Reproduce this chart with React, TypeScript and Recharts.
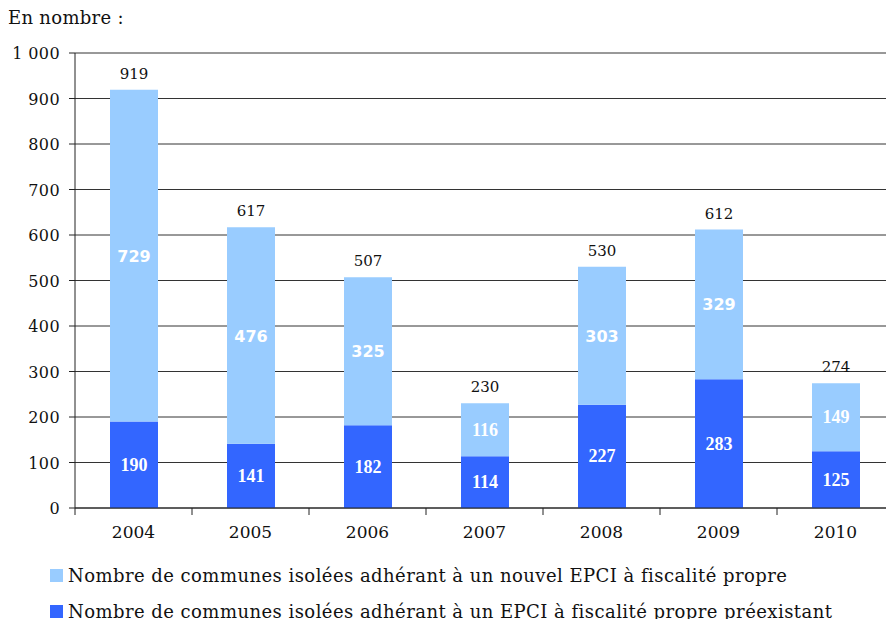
import React from 'react';
import { BarChart, Bar, XAxis, YAxis, CartesianGrid, LabelList, Legend } from 'recharts';

const years = ['2004', '2005', '2006', '2007', '2008', '2009', '2010'];
const preexisting = [190, 141, 182, 114, 227, 283, 125];
const nouvel = [729, 476, 325, 116, 303, 329, 149];
const yTicks = [0, 100, 200, 300, 400, 500, 600, 700, 800, 900, 1000];
const nameNouvel = 'Nombre de communes isolées adhérant à un nouvel EPCI à fiscalité propre';
const namePre = 'Nombre de communes isolées adhérant à un EPCI à fiscalité propre préexistant';

const data = years.map((y, i) => ({
  year: y,
  pre: preexisting[i],
  nouv: nouvel[i],
  total: preexisting[i] + nouvel[i],
}));

const SERIF = '"DejaVu Serif", serif';
const LIGHT = '#99CCFF';
const DARK = '#3366FF';
// years whose light-segment label is drawn in a sans face in the reference
const sansLight = new Set(['2004', '2005', '2006', '2008', '2009']);

const fmt = (v: number) => String(v).replace(/\B(?=(\d{3})+(?!\d))/g, ' ');

const XTick = (props: any) => {
  const { x, y, payload } = props;
  const half = 58.5;
  return (
    <g>
      <line x1={x - half} y1={y - 8} x2={x - half} y2={y - 1} stroke="#222" />
      <text x={x} y={y + 22} textAnchor="middle" fontFamily={SERIF} fontSize={17} fill="#111">
        {payload.value}
      </text>
    </g>
  );
};

const YTick = (props: any) => {
  const { x, y, payload } = props;
  return (
    <text x={x} y={y} dy={6} textAnchor="end" fontFamily={SERIF} fontSize={16} letterSpacing={0.4} fill="#111">
      {fmt(payload.value)}
    </text>
  );
};

const makeInner = (light: boolean) => (props: any) => {
  const { x, y, width, height, value, index } = props;
  const yr = years[index];
  const sans = light && sansLight.has(yr);
  return (
    <text
      x={x + width / 2}
      y={y + height / 2}
      dy={6}
      textAnchor="middle"
      fill="#fff"
      fontWeight="bold"
      fontFamily={sans ? '"DejaVu Sans", sans-serif' : '"Liberation Serif", serif'}
      fontSize={sans ? 16 : 18}
    >
      {value}
    </text>
  );
};

const TopLabel = (props: any) => {
  const { x, y, width, index } = props;
  return (
    <text x={x + width / 2} y={y - 11} textAnchor="middle" fontFamily={SERIF} fontSize={15} fill="#111">
      {data[index].total}
    </text>
  );
};

const LegendContent = () => {
  const items = [
    { color: LIGHT, label: nameNouvel },
    { color: DARK, label: namePre },
  ];
  return (
    <div>
      {items.map((it) => (
        <div key={it.label} style={{ display: 'flex', alignItems: 'center', height: 36, fontFamily: SERIF, fontSize: 18, letterSpacing: 0.45, color: '#111', whiteSpace: 'nowrap' }}>
          <span style={{ display: 'inline-block', width: 13, height: 13, background: it.color, marginRight: 5 }} />
          <span>{it.label}</span>
        </div>
      ))}
    </div>
  );
};

export default function App() {
  return (
    <div style={{ position: 'absolute', left: 0, top: 0, width: 886, height: 619, background: '#fff', overflow: 'hidden' }}>
      <div style={{ position: 'absolute', left: 8, top: 7, fontFamily: SERIF, fontSize: 18, letterSpacing: 0.3, color: '#111', whiteSpace: 'nowrap' }}>En nombre :</div>
      <BarChart width={894} height={619} data={data} margin={{ top: 53, right: 0, left: 0, bottom: 71 }} barSize={48}>
        <CartesianGrid vertical={false} stroke="#333" strokeWidth={1} />
        <XAxis
          dataKey="year"
          height={40}
          axisLine={{ stroke: '#222' }}
          tickLine={false}
          tick={<XTick />}
          interval={0}
        />
        <YAxis
          width={75}
          domain={[0, 1000]}
          ticks={yTicks}
          axisLine={{ stroke: '#222' }}
          tickLine={{ stroke: '#222' }}
          tickSize={6}
          tickMargin={9}
          tick={<YTick />}
          interval={0}
        />
        <Bar dataKey="pre" stackId="a" fill={DARK} name={namePre} isAnimationActive={false}>
          <LabelList dataKey="pre" content={makeInner(false)} />
        </Bar>
        <Bar dataKey="nouv" stackId="a" fill={LIGHT} name={nameNouvel} isAnimationActive={false}>
          <LabelList dataKey="nouv" content={makeInner(true)} />
          <LabelList dataKey="total" content={<TopLabel />} />
        </Bar>
        <Legend
          layout="horizontal"
          verticalAlign="middle"
          align="center"
          content={<LegendContent />}
          wrapperStyle={{ top: 557, left: 50, width: 836 }}
        />
      </BarChart>
    </div>
  );
}
